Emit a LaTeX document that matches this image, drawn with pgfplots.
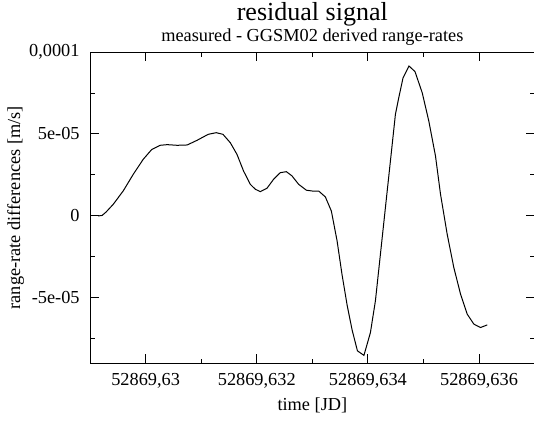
\documentclass[border=0pt]{standalone}
\usepackage{fontspec}
\setmainfont{Liberation Serif}
\usepackage{pgfplots}
\pgfplotsset{compat=1.18}

% time is stored as (JD - 52869.63) * 1000, the labels give the full JD
\pgfplotstableread{
t       dv
-0.856  0
-0.784  0.03e-5
-0.712  0.24e-5
-0.586  0.70e-5
-0.405  1.52e-5
-0.225  2.53e-5
-0.045  3.45e-5
0.108   4.05e-5
0.261   4.31e-5
0.387   4.35e-5
0.568   4.31e-5
0.748   4.33e-5
0.928   4.62e-5
1.126   4.98e-5
1.270   5.08e-5
1.391   4.98e-5
1.523   4.47e-5
1.643   3.76e-5
1.762   2.74e-5
1.883   1.93e-5
1.973   1.63e-5
2.063   1.48e-5
2.184   1.69e-5
2.303   2.24e-5
2.423   2.64e-5
2.532   2.70e-5
2.634   2.44e-5
2.753   1.93e-5
2.892   1.57e-5
3.000   1.52e-5
3.114   1.52e-5
3.234   1.16e-5
3.342   0.30e-5
3.445   -1.52e-5
3.535   -3.60e-5
3.625   -5.43e-5
3.715   -6.95e-5
3.811   -8.23e-5
3.928   -8.51e-5
4.045   -7.12e-5
4.135   -5.18e-5
4.225   -2.34e-5
4.315   0.51e-5
4.405   3.35e-5
4.495   6.20e-5
4.555   7.21e-5
4.631   8.41e-5
4.739   9.15e-5
4.847   8.81e-5
4.977   7.52e-5
5.096   5.79e-5
5.216   3.66e-5
5.306   1.34e-5
5.427   -1.12e-5
5.546   -3.15e-5
5.667   -4.77e-5
5.787   -5.99e-5
5.906   -6.60e-5
6.027   -6.81e-5
6.148   -6.65e-5
}\residual

\begin{document}
\begin{tikzpicture}[font=\fontsize{18.3bp}{22bp}\selectfont]
\begin{axis}[
  scale only axis, width=444bp, height=311bp,
  xmin=-1, xmax=7, ymin=-9e-5, ymax=1e-4,
  xtick={0,2,4,6},
  xticklabels={{52869,63},{52869,632},{52869,634},{52869,636}},
  minor xtick={1,3,5},
  ytick={-5e-5,0,5e-5,1e-4},
  yticklabels={{-5e-05},{0},{5e-05},{0,0001}},
  minor ytick={-7.5e-5,-2.5e-5,2.5e-5,7.5e-5},
  scaled y ticks=false,
  tick align=inside, tick pos=both,
  major tick length=9bp, minor tick length=4.5bp,
  every tick/.style={black, line width=1bp},
  axis line style={black, line width=1.1bp},
  xticklabel style={yshift=-6bp},
  yticklabel style={xshift=-7bp},
]
\addplot[black, line width=1bp] table[x=t, y=dv] {\residual};
\coordinate (ll) at (rel axis cs:0,0);
\coordinate (ur) at (rel axis cs:1,1);
\coordinate (tc) at (rel axis cs:0.5,1);
\coordinate (bc) at (rel axis cs:0.5,0);
\coordinate (lc) at (rel axis cs:0,0.5);
\end{axis}
\node[anchor=base, font=\fontsize{26bp}{30bp}\selectfont] at ([yshift=32bp]tc) {residual signal};
\node[anchor=base] at ([yshift=11bp]tc) {measured - GGSM02 derived range-rates};
\node[anchor=base] at ([yshift=-47bp]bc) {time [JD]};
\node[anchor=base, rotate=90] at ([xshift=-70bp]lc) {range-rate differences [m/s]};
\pgfresetboundingbox
\path ([xshift=-90bp,yshift=-57bp]ll) rectangle ([xshift=-0.6bp,yshift=52bp]ur);
\end{tikzpicture}
\end{document}
